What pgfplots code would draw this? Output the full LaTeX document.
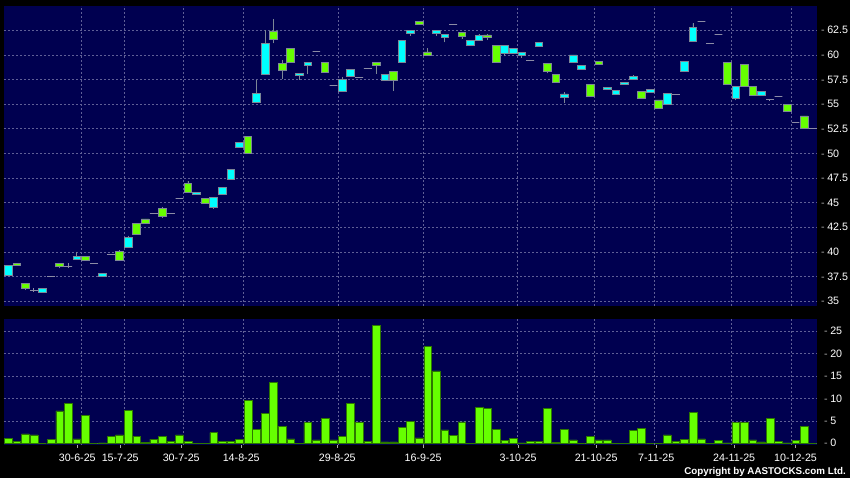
\documentclass[border=0pt]{standalone}
\usepackage{pgfplots}
\pgfplotsset{compat=1.18}
\usepackage{pgfplotstable}
\usepgfplotslibrary{statistics}
\usepackage{fontspec}
\setmainfont{Liberation Sans}

\definecolor{bgnavy}{RGB}{0,0,80}
\definecolor{gridc}{RGB}{95,95,150}
\definecolor{upc}{RGB}{0,255,255}
\definecolor{dnc}{RGB}{102,255,0}
\definecolor{edgec}{RGB}{125,135,150}
\definecolor{flatc}{RGB}{140,140,165}
\definecolor{voledge}{RGB}{45,120,0}
\definecolor{tickc}{RGB}{170,170,170}

% candles: k, low, body bottom, body top, high, colour class (0 green, 1 cyan, 2 flat)
\pgfplotstableread{
k lo bb bt hi c
0 37.57 37.57 38.58 38.58 1
1 38.60 38.60 38.85 38.85 0
2 36.10 36.25 36.79 36.79 0
3 35.95 36.10 36.10 36.35 2
4 35.86 35.90 36.27 36.27 1
5 37.45 37.45 37.45 37.45 2
6 38.30 38.50 38.85 38.85 0
7 38.30 38.50 38.50 38.90 2
8 39.25 39.25 39.50 40.00 1
9 39.15 39.15 39.50 39.50 0
10 38.80 38.80 38.80 38.80 2
11 37.50 37.50 37.80 37.80 1
12 39.75 39.75 39.75 39.75 2
13 39.17 39.17 40.00 40.15 0
14 40.47 40.47 41.43 41.63 1
15 41.77 41.77 42.90 42.90 0
16 42.90 42.90 43.33 43.33 0
17 43.87 43.87 43.87 43.87 2
18 43.47 43.57 44.40 44.57 0
19 43.90 43.90 43.90 43.90 2
20 45.45 45.45 45.45 45.45 2
21 46.00 46.00 46.98 47.19 0
22 45.80 45.80 46.04 46.04 1
23 44.87 44.87 45.42 45.42 0
24 44.37 44.47 45.52 45.52 1
25 45.80 45.80 46.56 46.56 1
26 47.36 47.36 48.33 48.33 1
27 50.57 50.57 51.11 51.11 1
28 50.03 50.03 51.76 51.76 0
29 55.17 55.17 56.10 57.43 1
30 57.99 57.99 61.13 62.50 1
31 61.17 61.57 62.43 63.65 0
32 57.53 58.40 59.10 59.50 0
33 59.27 59.27 60.67 60.67 0
34 57.50 57.88 58.13 58.13 1
35 58.06 58.96 59.27 59.27 1
36 60.31 60.31 60.31 60.31 2
37 58.23 58.23 59.27 59.27 0
38 56.87 56.87 56.87 56.87 2
39 56.27 56.27 57.47 57.71 1
40 57.80 57.80 58.50 58.50 1
41 57.67 57.67 57.67 57.67 2
42 58.60 58.60 58.60 58.60 2
43 58.06 58.93 59.27 59.27 0
44 57.40 57.40 57.99 57.99 1
45 56.33 57.40 58.33 58.33 0
46 59.27 59.27 61.47 61.47 1
47 61.97 62.23 62.50 62.50 1
48 63.07 63.07 63.40 63.40 0
49 59.97 59.97 60.30 60.70 0
50 61.97 62.20 62.50 62.50 1
51 61.27 61.80 62.10 62.10 1
52 63.10 63.10 63.10 63.10 2
53 61.57 61.87 62.30 62.30 0
54 60.97 60.97 61.50 61.50 1
55 61.50 61.50 62.00 62.10 1
56 61.50 61.77 62.03 62.13 0
57 59.20 59.20 61.00 61.00 0
58 59.87 60.20 60.97 60.97 1
59 60.17 60.17 60.70 60.70 1
60 59.73 59.97 60.23 60.23 1
61 59.48 59.48 59.48 59.48 2
62 60.87 60.87 61.23 61.23 1
63 58.13 58.33 59.10 59.10 0
64 57.26 57.26 58.00 58.00 0
65 55.10 55.67 56.03 56.20 1
66 59.24 59.24 60.00 60.00 1
67 58.53 58.53 58.90 58.90 1
68 55.77 55.77 57.00 57.00 0
69 59.06 59.06 59.30 59.30 0
70 56.47 56.47 56.70 56.70 1
71 55.97 55.97 56.43 56.43 1
72 56.97 56.97 57.20 57.20 1
73 57.47 57.47 57.80 57.93 1
74 55.57 55.57 56.30 56.30 0
75 56.20 56.20 56.50 56.50 1
76 54.57 54.57 55.43 55.43 0
77 55.00 55.00 56.10 56.10 1
78 56.00 56.00 56.00 56.00 2
79 58.30 58.30 59.30 59.30 1
80 61.37 61.37 62.80 63.20 1
81 63.40 63.40 63.40 63.40 2
82 61.13 61.13 61.13 61.13 2
83 62.07 62.07 62.07 62.07 2
84 57.00 57.00 59.20 59.20 0
85 55.37 55.60 56.83 56.83 1
86 56.83 56.83 59.00 59.00 0
87 55.93 55.93 56.77 56.77 0
88 55.90 55.90 56.30 56.30 1
89 55.33 55.50 55.50 55.50 2
90 55.77 55.77 55.77 55.77 2
91 54.30 54.30 54.97 54.97 0
92 53.12 53.12 53.12 53.12 2
93 52.53 52.53 53.80 53.80 0
94 52.57 52.57 52.57 52.57 2
}\candles

% volume (millions)
\pgfplotstableread{
k v
0 1.1
1 0.5
2 2.1
3 1.85
4 0
5 0.9
6 7.2
7 8.9
8 1.0
9 6.2
10 0
11 0.1
12 1.5
13 1.85
14 7.3
15 1.5
16 0.2
17 0.9
18 1.6
19 0.5
20 1.85
21 0.5
22 0.05
23 0.05
24 2.4
25 0.5
26 0.4
27 0.9
28 9.5
29 3.1
30 6.7
31 13.6
32 3.7
33 1.0
34 0.05
35 4.6
36 0.75
37 5.6
38 0.75
39 1.6
40 8.9
41 4.7
42 0.5
43 26.3
44 0.3
45 0.3
46 3.5
47 4.8
48 1.2
49 21.5
50 16.1
51 3.0
52 1.75
53 4.75
54 0.05
55 8.0
56 7.7
57 3.05
58 0.6
59 1.05
60 0.1
61 0.35
62 0.35
63 7.85
64 0.15
65 3.1
66 0.75
67 0
68 1.6
69 0.75
70 0.75
71 0.05
72 0.05
73 2.8
74 3.4
75 0
76 0
77 1.9
78 0.35
79 0.9
80 6.8
81 1.0
82 0
83 0.6
84 0.1
85 4.7
86 4.7
87 0.75
88 0.3
89 5.5
90 0.5
91 0.1
92 0.6
93 3.7
94 0
}\volume

\pgfplotsset{
  candle0/.style={draw=edgec, fill=dnc, line width=0.7pt},
  candle1/.style={draw=edgec, fill=upc, line width=0.7pt},
  candle2/.style={draw=flatc, line width=1pt},
  chartbase/.style={
    scale only axis, anchor=south west, width=813pt,
    xmin=-0.5, xmax=94.5,
    axis background/.style={fill=bgnavy},
    axis line style={draw=none},
    grid style={gridc, dash pattern=on 2pt off 2pt, line width=0.5pt},
    yticklabel pos=right,
    ytick style={draw=none},
    yticklabel style={anchor=west, inner sep=0pt, xshift=4pt, text=white,
      font=\fontsize{10.7}{12}\selectfont},
    yticklabel={\textcolor{tickc}{-}\hspace{2.5pt}\pgfmathprintnumber{\tick}},
    /pgf/number format/assume math mode=true,
  },
}

\begin{document}
\begin{tikzpicture}
\useasboundingbox (0,0) rectangle (850pt,478pt);
\fill[black] (0,0) rectangle (850pt,478pt);

\begin{axis}[chartbase, at={(4pt,172pt)}, height=300pt,
    ymin=34.49, ymax=64.97,
    ytick={35,37.5,40,42.5,45,47.5,50,52.5,55,57.5,60,62.5},
    xtick={8.5,13.5,20.5,27.5,38.5,48.5,59.5,68.5,75.5,84.5,91.5},
    xticklabels={}, xtick style={draw=none},
    grid=major,
    boxplot/draw direction=y,
    boxplot/box extend=0.9, boxplot/whisker extend=0]
\pgfplotsforeachungrouped \i in {0,...,94}{%
  \pgfplotstablegetelem{\i}{lo}\of\candles \let\vlo\pgfplotsretval
  \pgfplotstablegetelem{\i}{bb}\of\candles \let\vbb\pgfplotsretval
  \pgfplotstablegetelem{\i}{bt}\of\candles \let\vbt\pgfplotsretval
  \pgfplotstablegetelem{\i}{hi}\of\candles \let\vhi\pgfplotsretval
  \pgfplotstablegetelem{\i}{c}\of\candles \let\vc\pgfplotsretval
  \edef\candlecmd{\noexpand\addplot[candle\vc, boxplot prepared={draw position=\i,
    lower whisker=\vlo, lower quartile=\vbb, median=\vbt,
    upper quartile=\vbt, upper whisker=\vhi}] coordinates {};}%
  \candlecmd
}
\end{axis}

\begin{axis}[chartbase, at={(4pt,33pt)}, height=125.7pt,
    ymin=-0.38, ymax=27.6,
    ytick={0,5,10,15,20,25}, ymajorgrids,
    xtick={8.06,13.08,20.21,27.22,38.44,48.48,59.58,68.70,75.71,84.82,91.99},
    xticklabels={30-6-25,15-7-25,30-7-25,14-8-25,29-8-25,16-9-25,3-10-25,21-10-25,7-11-25,24-11-25,10-12-25},
    xtick pos=left, tick align=outside, major tick length=3pt,
    xtick style={draw=tickc, line width=0.6pt},
    xticklabel style={text=white, font=\fontsize{10.7}{12}\selectfont,
      inner sep=0pt, anchor=north, yshift=-6pt},
    extra x ticks={8.5,13.5,20.5,27.5,38.5,48.5,59.5,68.5,75.5,84.5,91.5},
    extra x tick labels={},
    extra x tick style={grid=major, xtick style={draw=none}}]
\addplot[ybar, bar width=0.9, fill=dnc, draw=voledge, line width=0.5pt]
  table[x=k, y=v] {\volume};
\end{axis}

\node[anchor=east, text=white, inner sep=0pt,
  font=\bfseries\fontsize{9.8}{11}\selectfont] at (846pt,6pt)
  {Copyright by AASTOCKS.com Ltd.};
\end{tikzpicture}
\end{document}
